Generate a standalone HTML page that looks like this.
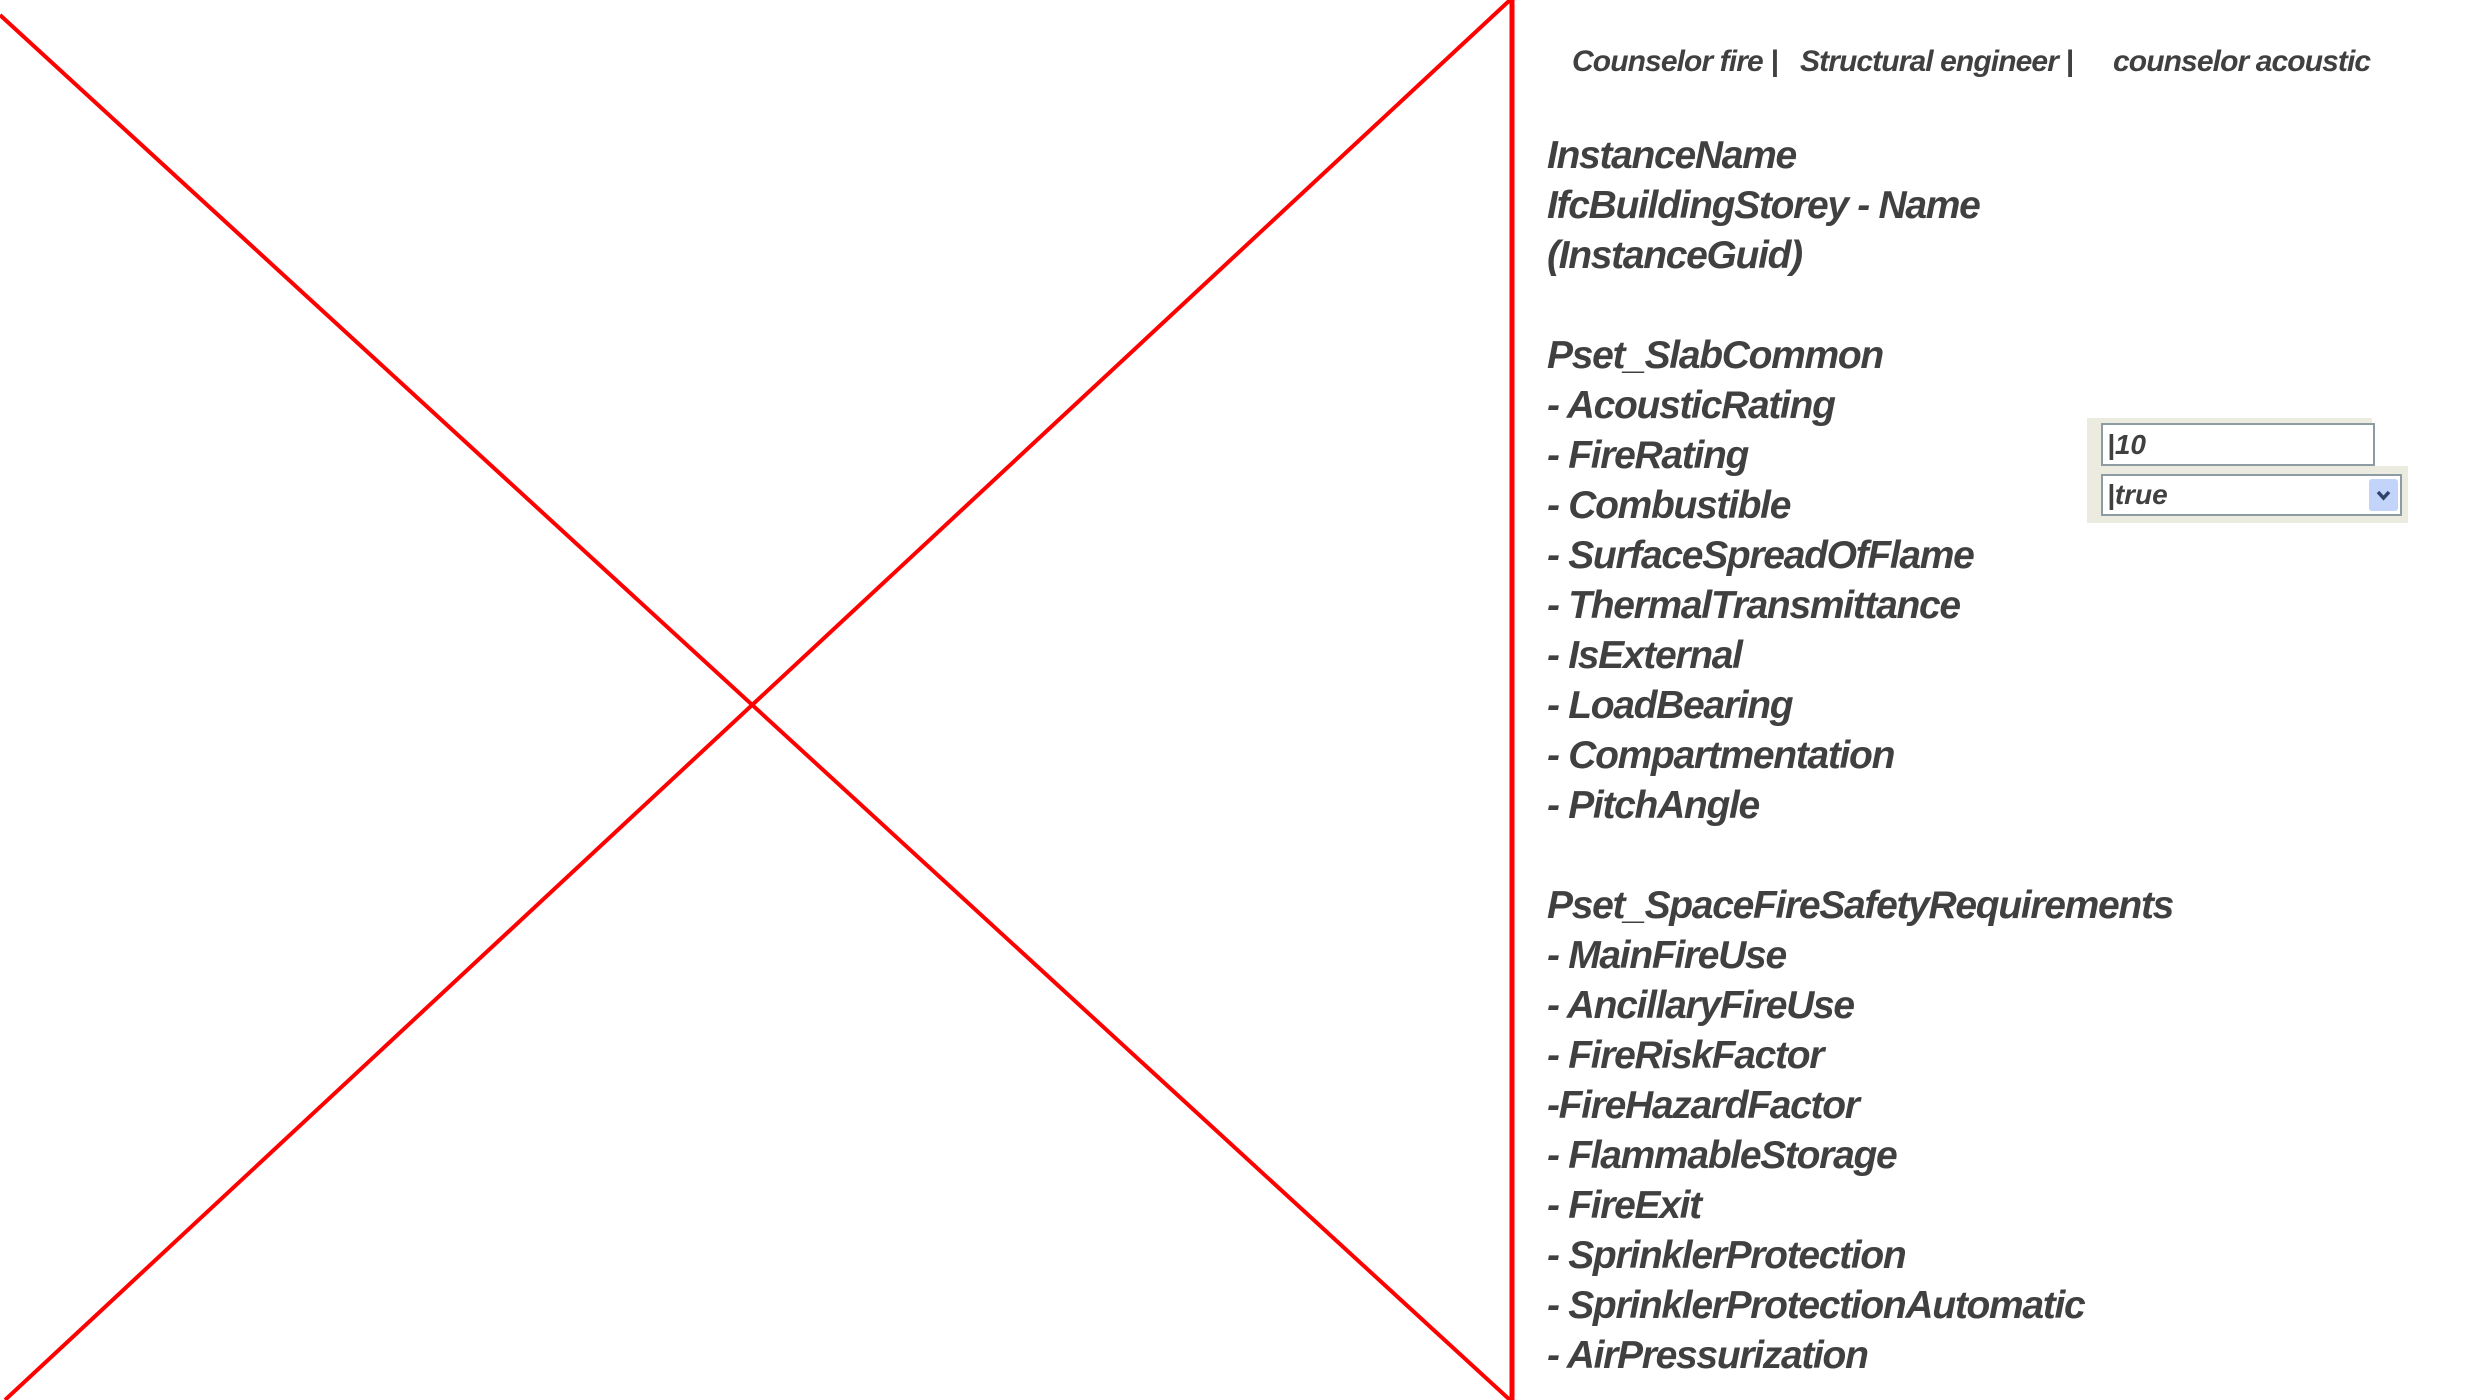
<!DOCTYPE html>
<html><head><meta charset="utf-8"><style>
body{margin:0;width:2480px;height:1400px;background:#fff;position:relative;overflow:hidden;font-family:"Liberation Sans",sans-serif;font-style:italic;color:#404040}
.t{position:absolute;left:1547px;font-size:39px;font-weight:bold;white-space:nowrap;line-height:1;letter-spacing:-1.3px}
.h{position:absolute;top:47px;font-size:30px;font-weight:bold;white-space:nowrap;line-height:1;letter-spacing:-0.9px}
</style></head><body>
<svg width="1520" height="1400" style="position:absolute;left:0;top:0">
<line x1="0" y1="15" x2="1510" y2="1400" stroke="#f00" stroke-width="4"/>
<line x1="5" y1="1400" x2="1510" y2="0" stroke="#f00" stroke-width="4"/>
<line x1="1512" y1="0" x2="1512" y2="1400" stroke="#f00" stroke-width="5"/>
</svg>
<div class="h" style="left:1572px">Counselor fire |</div>
<div class="h" style="left:1800px">Structural engineer |</div>
<div class="h" style="left:2113px">counselor acoustic</div>
<div id="list"></div>
<div style="position:absolute;left:2087px;top:418px;width:285px;height:50px;background:#ecebdf"></div>
<div style="position:absolute;left:2087px;top:466px;width:321px;height:57px;background:#ecebdf"></div>
<div style="position:absolute;left:2101px;top:423px;width:266px;height:39px;background:#fff;border:2px solid #8d9ba3;font-size:28px;font-weight:bold;line-height:39px;padding-left:4px;box-sizing:content-box">|10</div>
<div style="position:absolute;left:2101px;top:474px;width:293px;height:38px;background:#fff;border:2px solid #8d9ba3;font-size:28px;font-weight:bold;line-height:38px;padding-left:4px">|true
<div style="position:absolute;right:2px;top:3px;width:29px;height:32px;background:#c2d4fa;border-radius:3px">
<svg width="29" height="32" style="position:absolute;left:0;top:0"><polyline points="9,13 14.5,19 20,13" fill="none" stroke="#2f426e" stroke-width="3.5"/></svg></div></div>
<script>
const lines=["InstanceName","IfcBuildingStorey - Name","(InstanceGuid)","","Pset_SlabCommon","- AcousticRating","- FireRating","- Combustible","- SurfaceSpreadOfFlame","- ThermalTransmittance","- IsExternal","- LoadBearing","- Compartmentation","- PitchAngle","","Pset_SpaceFireSafetyRequirements","- MainFireUse","- AncillaryFireUse","- FireRiskFactor","-FireHazardFactor","- FlammableStorage","- FireExit","- SprinklerProtection","- SprinklerProtectionAutomatic","- AirPressurization"];
const list=document.getElementById('list');
lines.forEach((s,i)=>{if(!s)return;const d=document.createElement('div');d.className='t';d.style.top=(167+i*50-31)+'px';d.textContent=s;


list.appendChild(d);});
</script>
</body></html>
